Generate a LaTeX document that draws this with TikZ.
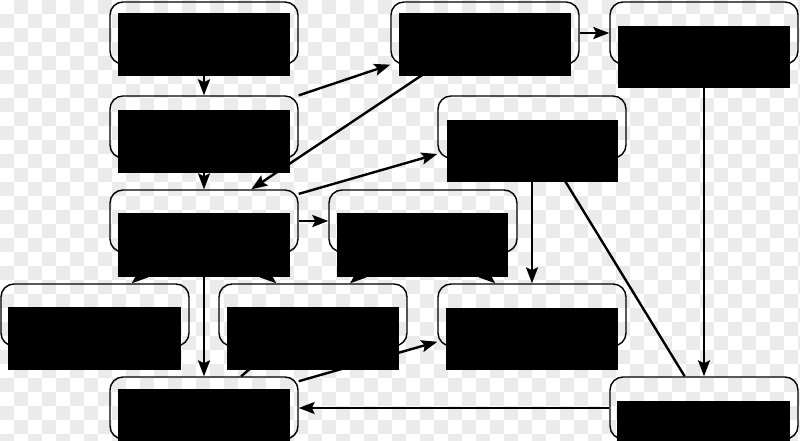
\documentclass[tikz,border=0pt]{standalone}
\usetikzlibrary{arrows.meta}
\definecolor{chk}{HTML}{EBEBEB}
\begin{document}
\begin{tikzpicture}[x=1pt,y=-1pt,
  box/.style={draw=black, line width=1.4pt, rounded corners=13pt, minimum width=188pt, minimum height=62pt, inner sep=0pt},
  conn/.style={line width=2.4pt, -{Stealth[length=16pt,width=12pt,inset=3pt]}},
  redact/.style={fill=black}]
\useasboundingbox (0,0) rectangle (800,441);
\begin{scope}
\clip (0,0) rectangle (800,441);
\fill[white] (0,0) rectangle (800,441);
\foreach \i in {0,2,...,56} \foreach \j in {1,3,...,31} \fill[chk] (\i*14,\j*14) rectangle ++(14,14);
\foreach \i in {1,3,...,57} \foreach \j in {0,2,...,30} \fill[chk] (\i*14,\j*14) rectangle ++(14,14);
\end{scope}
% nodes
\node[box] (A) at (204,33) {};
\node[box] (B) at (204,127) {};
\node[box] (C) at (204,221) {};
\node[box] (D) at (95,315) {};
\node[box] (E) at (313,315) {};
\node[box] (F) at (204,408) {};
\node[box] (G) at (423,221) {};
\node[box] (H) at (532,315) {};
\node[box] (I) at (704,408) {};
\node[box] (J) at (485,33) {};
\node[box] (K) at (704,33) {};
\node[box] (L) at (532,127) {};
% connectors
\draw[conn] (A) -- (B);
\draw[conn] (B) -- (C);
\draw[conn] (B) -- (J);
\draw[conn] (J) -- (C);
\draw[conn] (C) -- (L);
\draw[conn] (J) -- (K);
\draw[conn] (C) -- (G);
\draw[conn] (C) -- (D);
\draw[conn] (C) -- (E);
\draw[conn] (G) -- (E);
\draw[conn] (G) -- (H);
\draw[conn] (C) -- (F);
\draw[conn] (F) -- (E);
\draw[conn] (F) -- (H);
\draw[conn] (L) -- (H);
\draw[conn] (I) -- (L);
\draw[conn] (K) -- (I);
\draw[conn] (I) -- (F);
% redaction blocks
\begin{scope}
\clip (0,0) rectangle (800,441);
\fill[redact] (118,13) rectangle (290,76);
\fill[redact] (118,110) rectangle (290,173);
\fill[redact] (118,213) rectangle (290,277);
\fill[redact] (8,307) rectangle (181,370);
\fill[redact] (227,307) rectangle (399,370);
\fill[redact] (118,389) rectangle (290,452);
\fill[redact] (337,213) rectangle (508,277);
\fill[redact] (446,308) rectangle (618,370);
\fill[redact] (617,401) rectangle (790,464);
\fill[redact] (399,13) rectangle (571,76);
\fill[redact] (618,26) rectangle (790,88);
\fill[redact] (447,120) rectangle (618,182);
\end{scope}
\end{tikzpicture}
\end{document}
